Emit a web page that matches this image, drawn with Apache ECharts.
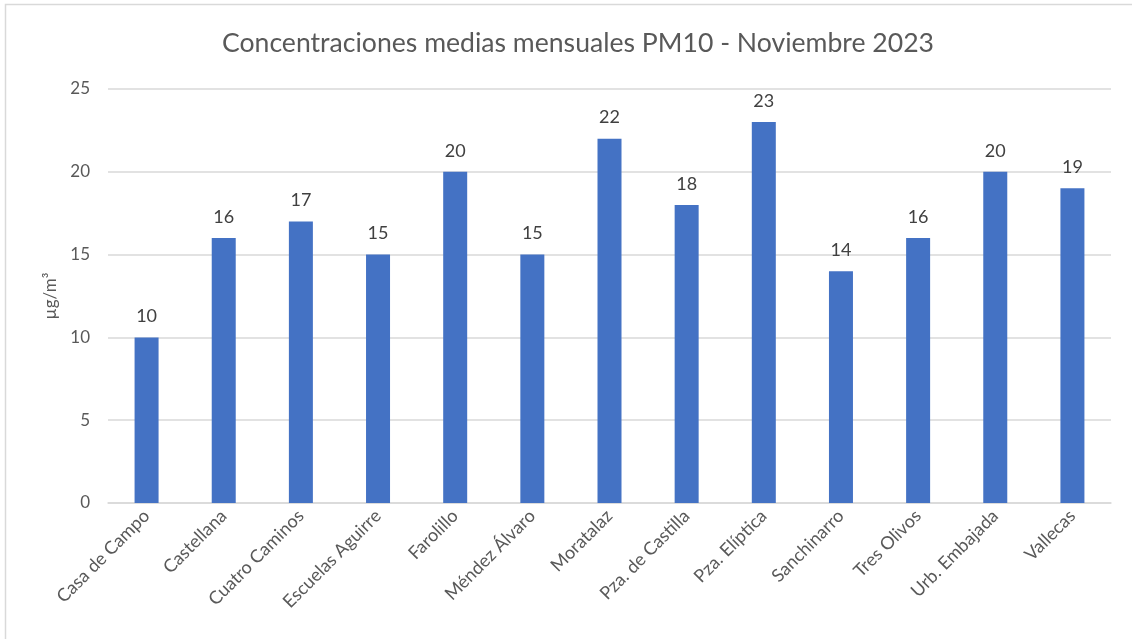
<!DOCTYPE html>
<html>
<head>
<meta charset="utf-8">
<script src="https://cdn.jsdelivr.net/npm/echarts@6/dist/echarts.min.js"></script>
<style>
  html, body { margin: 0; padding: 0; background: #fff; }
  #main { width: 1132px; height: 639px; }
</style>
</head>
<body>
<div id="main"></div>
<script>
var estaciones = [
  "Casa de Campo",
  "Castellana",
  "Cuatro Caminos",
  "Escuelas Aguirre",
  "Farolillo",
  "Méndez Álvaro",
  "Moratalaz",
  "Pza. de Castilla",
  "Pza. Elíptica",
  "Sanchinarro",
  "Tres Olivos",
  "Urb. Embajada",
  "Vallecas"
];
var valores = [10, 16, 17, 15, 20, 15, 22, 18, 23, 14, 16, 20, 19];
var yTicks = [0, 5, 10, 15, 20, 25];

var chart = echarts.init(document.getElementById("main"));
var option = {
  backgroundColor: "#fff",
  textStyle: { fontFamily: "Lato" },
  title: {
    text: "Concentraciones medias mensuales PM10 - Noviembre 2023",
    left: 573,
    textAlign: "center",
    top: 25,
    textStyle: {
      color: "#595959",
      fontSize: 26.6,
      fontWeight: "normal",
      fontFamily: "Lato"
    }
  },
  graphic: [
    {
      type: "rect",
      shape: { x: 5.5, y: 4.5, width: 1140, height: 650 },
      style: { fill: "none", stroke: "#d9d9d9", lineWidth: 1.5 },
      silent: true
    }
  ],
  grid: {
    left: 108,
    right: 21,
    top: 89,
    bottom: 136,
    containLabel: false
  },
  xAxis: {
    type: "category",
    data: estaciones,
    axisTick: { show: false },
    axisLine: { lineStyle: { color: "#d9d9d9", width: 1.5 } },
    axisLabel: {
      rotate: 45,
      interval: 0,
      color: "#595959",
      fontSize: 18,
      margin: 10
    }
  },
  yAxis: {
    type: "value",
    min: yTicks[0],
    max: yTicks[yTicks.length - 1],
    interval: 5,
    name: "µg/m³",
    nameLocation: "middle",
    nameGap: 45,
    nameTextStyle: { color: "#595959", fontSize: 17 },
    axisLine: { show: false },
    axisTick: { show: false },
    axisLabel: { color: "#595959", fontSize: 17, margin: 18 },
    splitLine: { lineStyle: { color: "#d9d9d9", width: 1.5 } }
  },
  series: [
    {
      type: "bar",
      data: valores,
      barWidth: 24,
      itemStyle: { color: "#4472C4" },
      label: {
        show: true,
        position: "top",
        distance: 12,
        color: "#404040",
        fontSize: 18
      }
    }
  ]
};
chart.setOption(option);
</script>
</body>
</html>
